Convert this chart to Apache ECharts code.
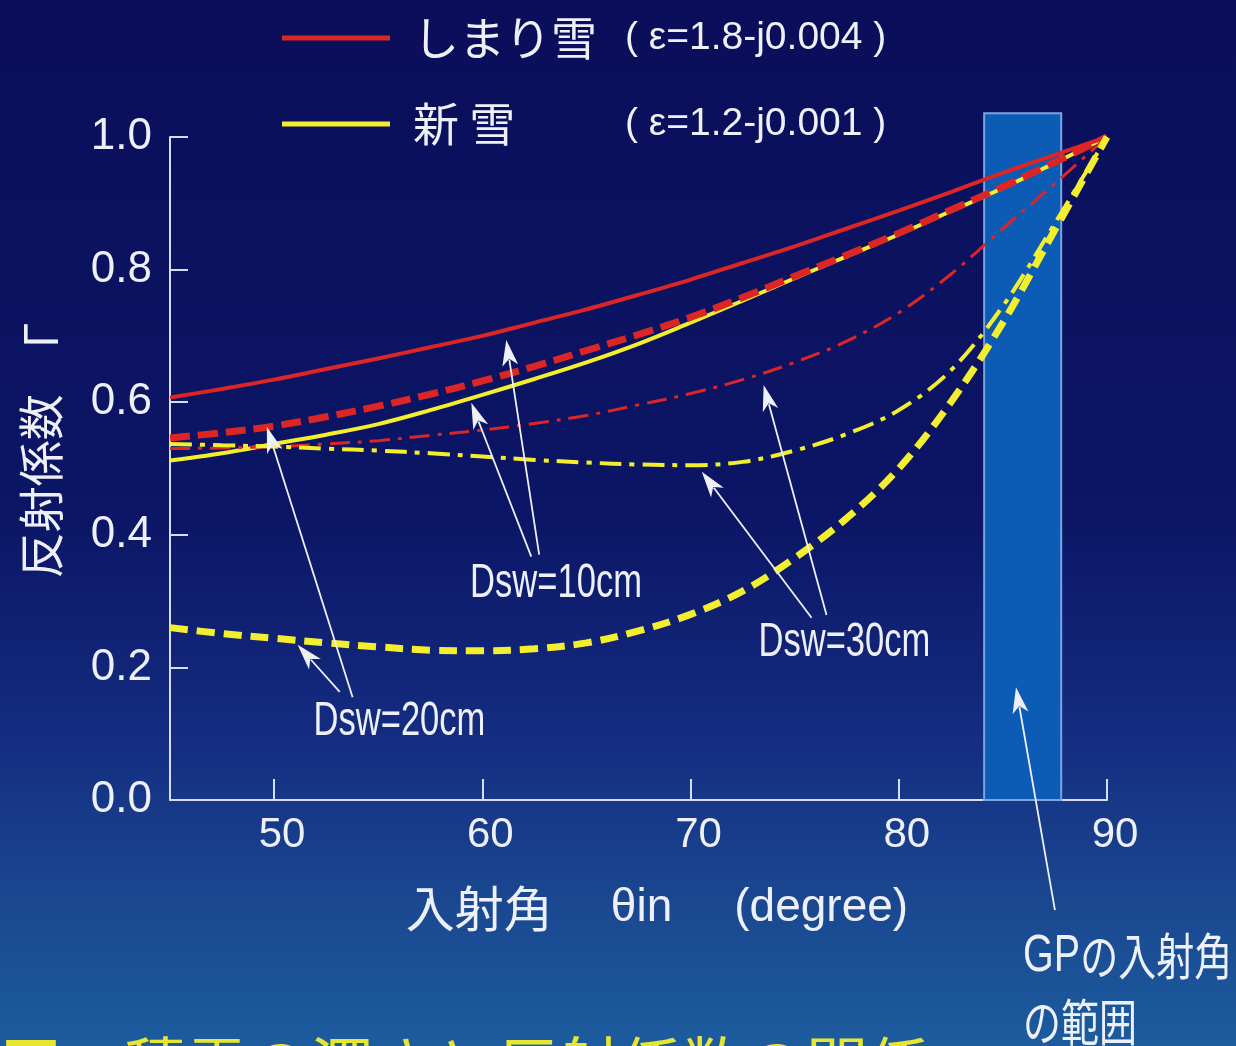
<!DOCTYPE html>
<html>
<head>
<meta charset="utf-8">
<title>反射係数と入射角</title>
<script src="https://cdn.jsdelivr.net/npm/echarts@6/dist/echarts.min.js"></script>
<style>
  html, body { margin: 0; padding: 0; background: #0a0e5a; }
  #chart { width: 1236px; height: 1046px; }
</style>
</head>
<body>
<div id="chart"></div>
<script>
// Incidence angle (degree)
const angles = [45, 47.5, 50, 52.5, 55, 57.5, 60, 62.5, 65, 67.5, 70, 72.5, 75, 77.5, 80, 82.5, 85, 87.5, 90];

// Reflection coefficient, compacted snow (ε=1.8-j0.004)
const compact10 = [0.607, 0.620, 0.634, 0.650, 0.666, 0.683, 0.700, 0.720, 0.740, 0.762, 0.785, 0.810, 0.835, 0.862, 0.889, 0.917, 0.946, 0.973, 1.0];
const compact20 = [0.546, 0.554, 0.564, 0.578, 0.594, 0.612, 0.632, 0.654, 0.678, 0.702, 0.728, 0.758, 0.790, 0.822, 0.855, 0.890, 0.925, 0.962, 1.0];
const compact30 = [0.530, 0.531, 0.533, 0.537, 0.542, 0.550, 0.558, 0.568, 0.580, 0.596, 0.613, 0.634, 0.660, 0.692, 0.735, 0.793, 0.862, 0.930, 1.0];

// Reflection coefficient, new snow (ε=1.2-j0.001)
const fresh10 = [0.512, 0.523, 0.537, 0.551, 0.567, 0.588, 0.611, 0.635, 0.660, 0.688, 0.720, 0.753, 0.787, 0.820, 0.853, 0.888, 0.923, 0.961, 1.0];
const fresh20 = [0.260, 0.251, 0.244, 0.237, 0.231, 0.226, 0.225, 0.228, 0.237, 0.255, 0.280, 0.315, 0.365, 0.425, 0.500, 0.600, 0.720, 0.860, 1.0];
const fresh30 = [0.537, 0.535, 0.533, 0.530, 0.527, 0.523, 0.518, 0.513, 0.509, 0.506, 0.505, 0.510, 0.527, 0.552, 0.588, 0.648, 0.745, 0.870, 1.0];

// Axis ticks
const xTicks = [50, 60, 70, 80, 90];
const yTicks = [0, 0.2, 0.4, 0.6, 0.8, 1.0];

// Incidence angle range of GP (degree) and the box height
const gpRange = [84.1, 87.8];
const gpTop = 1.036;

// Callout labels (angle, coefficient) and arrows [fromAngle, fromCoef, toAngle, toCoef]
const calloutLabels = [
  { text: 'Dsw=10cm', x: 63.54, y: 0.326 },
  { text: 'Dsw=20cm', x: 56.02, y: 0.118 },
  { text: 'Dsw=30cm', x: 77.39, y: 0.237 }
];
const calloutArrows = [
  [62.35, 0.367, 59.47, 0.599],
  [62.73, 0.370, 61.15, 0.694],
  [75.81, 0.275, 70.54, 0.495],
  [76.53, 0.279, 73.51, 0.626],
  [53.15, 0.163, 51.13, 0.234],
  [53.77, 0.155, 49.65, 0.563],
  [87.50, -0.166, 85.63, 0.170]
];
const gpLabel = { x: 85.97, y: -0.186 };

const RED = '#dc2626';
const YELLOW = '#f4ef2e';
const WHITE = '#eef0f8';
const LATIN = "'Liberation Sans', Arial, sans-serif";
const CJK = "'Noto Sans CJK JP', sans-serif";

const pairs = vals => angles.map((a, i) => [a, vals[i]]);

function curve(name, vals, color, width, type, z) {
  return {
    type: 'line', name, data: pairs(vals), smooth: 0.35, symbol: 'none',
    itemStyle: { color },
    lineStyle: { color, width, type, cap: 'butt' },
    z, silent: true, animation: false
  };
}

const chart = echarts.init(document.getElementById('chart'));

chart.setOption({
  animation: false,
  backgroundColor: {
    type: 'linear', x: 0, y: 0, x2: 0, y2: 1,
    colorStops: [
      { offset: 0, color: '#0a0e5a' },
      { offset: 0.5, color: '#0c1666' },
      { offset: 0.7, color: '#142c80' },
      { offset: 0.86, color: '#1a4790' },
      { offset: 1, color: '#1c5c9e' }
    ]
  },
  title: {
    text: '■　積雪の深さと反射係数の関係',
    left: 0, top: 1034, padding: 0,
    textStyle: { color: '#e8e630', fontSize: 62, fontFamily: CJK, fontWeight: 'normal' }
  },
  legend: {
    orient: 'vertical', left: 277, top: 10, itemGap: 40,
    itemWidth: 108, itemHeight: 5, selectedMode: false,
    data: [{ name: 'しまり雪', icon: 'rect' }, { name: '新雪', icon: 'rect' }],
    formatter: name => name === 'しまり雪'
      ? '{a|しまり雪}{b|( ε=1.8-j0.004 )}'
      : '{a|新 雪}{b|( ε=1.2-j0.001 )}',
    textStyle: {
      color: WHITE,
      rich: {
        a: { fontFamily: CJK, fontSize: 46, color: WHITE, width: 212, padding: [0, 0, 0, 18], lineHeight: 52 },
        b: { fontFamily: LATIN, fontSize: 39, color: WHITE, lineHeight: 52 }
      }
    }
  },
  grid: { left: 170, right: 129, top: 137, bottom: 246, containLabel: false },
  xAxis: {
    type: 'value', min: 45, max: 90,
    name: '{c|入射角}{t|θin}{d|(degree)}',
    nameLocation: 'middle', nameGap: 84,
    nameTextStyle: {
      padding: [0, 0, 0, 37],
      rich: {
        c: { fontFamily: CJK, fontSize: 49, color: WHITE },
        t: { fontFamily: LATIN, fontSize: 46, color: WHITE, padding: [0, 0, 0, 58] },
        d: { fontFamily: LATIN, fontSize: 46, color: WHITE, padding: [0, 0, 0, 62] }
      }
    },
    axisLine: { show: true, lineStyle: { color: '#d6dcf2', width: 2 } },
    axisTick: { show: true, inside: true, length: 21, customValues: xTicks, lineStyle: { color: '#d6dcf2', width: 2 } },
    axisLabel: {
      customValues: xTicks, margin: 14, color: WHITE,
      fontFamily: LATIN, fontSize: 42, padding: [0, 0, 0, 16]
    },
    splitLine: { show: false }
  },
  yAxis: {
    type: 'value', min: 0, max: 1, interval: 0.2,
    name: '反射係数　Γ',
    nameLocation: 'middle', nameRotate: 90, nameGap: 106,
    nameTextStyle: { fontFamily: CJK, fontSize: 46, color: WHITE, padding: [0, 0, 0, 36] },
    axisLine: { show: true, lineStyle: { color: '#d6dcf2', width: 2 } },
    axisTick: { show: true, inside: true, length: 18, customValues: yTicks, lineStyle: { color: '#d6dcf2', width: 2 } },
    axisLabel: {
      customValues: yTicks, margin: 18, color: WHITE,
      fontFamily: LATIN, fontSize: 44,
      formatter: v => v.toFixed(1)
    },
    splitLine: { show: false }
  },
  series: [
    {
      type: 'custom', name: 'GP', silent: true, clip: false, z: 1,
      data: [[gpRange[0], gpRange[1], gpTop]],
      encode: { x: [0, 1], y: 2 },
      renderItem: (params, api) => {
        const p0 = api.coord([api.value(0), 0]);
        const p1 = api.coord([api.value(1), api.value(2)]);
        return {
          type: 'rect',
          shape: { x: p0[0], y: p1[1], width: p1[0] - p0[0], height: p0[1] - p1[1] },
          style: { fill: '#0c5cb6', stroke: '#79a5e0', lineWidth: 2 }
        };
      }
    },
    curve('新雪', fresh10, YELLOW, 4, 'solid', 3),
    curve('しまり雪 Dsw=20cm', compact20, RED, 7, [20, 8], 4),
    curve('しまり雪', compact10, RED, 4, 'solid', 5),
    curve('しまり雪 Dsw=30cm', compact30, RED, 3, [20, 8, 4, 8], 5),
    curve('新雪 Dsw=30cm', fresh30, YELLOW, 4, [22, 8, 5, 8], 6),
    curve('新雪 Dsw=20cm', fresh20, YELLOW, 7, [18, 9], 6),
    {
      type: 'custom', name: 'arrows', silent: true, clip: false, z: 10,
      data: calloutArrows,
      encode: { x: [0, 2], y: [1, 3] },
      renderItem: (params, api) => {
        const a = api.coord([api.value(0), api.value(1)]);
        const b = api.coord([api.value(2), api.value(3)]);
        const dx = b[0] - a[0], dy = b[1] - a[1];
        const len = Math.hypot(dx, dy);
        const ux = dx / len, uy = dy / len;
        const L = 26, W = 8;
        const bx = b[0] - ux * L, by = b[1] - uy * L;
        return {
          type: 'group',
          children: [
            { type: 'line', shape: { x1: a[0], y1: a[1], x2: bx + ux * 6, y2: by + uy * 6 }, style: { stroke: WHITE, lineWidth: 1.8 } },
            { type: 'polygon', shape: { points: [[b[0], b[1]], [bx - uy * W, by + ux * W], [bx + ux * 7, by + uy * 7], [bx + uy * W, by - ux * W]] }, style: { fill: WHITE } }
          ]
        };
      }
    },
    {
      type: 'custom', name: 'labels', silent: true, clip: false, z: 11,
      data: calloutLabels.map(d => [d.x, d.y, d.text]),
      encode: { x: 0, y: 1 },
      renderItem: (params, api) => {
        const p = api.coord([api.value(0), api.value(1)]);
        return {
          type: 'text', x: p[0], y: p[1], scaleX: 0.72,
          style: { text: api.value(2), font: '48px ' + LATIN, fill: WHITE, align: 'center', verticalAlign: 'middle' }
        };
      }
    },
    {
      type: 'custom', name: 'gpLabel', silent: true, clip: false, z: 11,
      data: [[gpLabel.x, gpLabel.y]],
      encode: { x: 0, y: 1 },
      renderItem: (params, api) => {
        const p = api.coord([api.value(0), api.value(1)]);
        return {
          type: 'text', x: p[0], y: p[1], scaleX: 0.76,
          style: {
            text: '{g|GP}{j|の入射角}\n{j|の範囲}',
            rich: {
              g: { font: '52px ' + LATIN, fill: WHITE, lineHeight: 66 },
              j: { font: '50px ' + CJK, fill: WHITE, lineHeight: 66 }
            },
            fill: WHITE, align: 'left', verticalAlign: 'top'
          }
        };
      }
    }
  ]
});
</script>
</body>
</html>
